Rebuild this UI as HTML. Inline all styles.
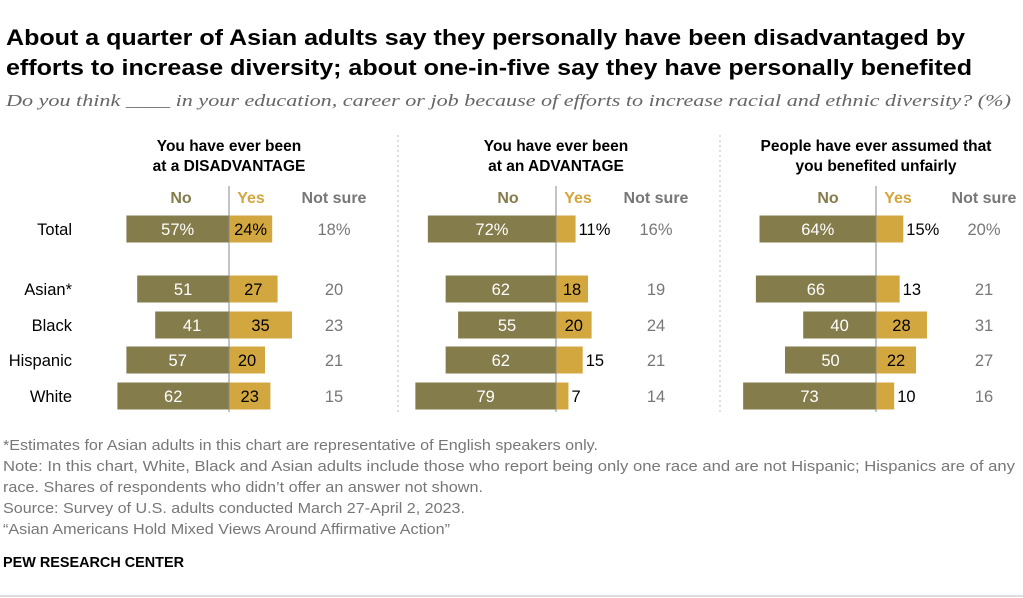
<!DOCTYPE html>
<html><head><meta charset="utf-8"><style>
body{margin:0;background:#fff;width:1023px;height:598px;overflow:hidden;font-family:"Liberation Sans",sans-serif}
svg{display:block}
</style></head><body>
<svg id="c" width="1023" height="598" xmlns="http://www.w3.org/2000/svg">
<text x="6" y="45" font-size="22" font-weight="bold" fill="#000" textLength="959" lengthAdjust="spacingAndGlyphs">About a quarter of Asian adults say they personally have been disadvantaged by</text>
<text x="6" y="75" font-size="22" font-weight="bold" fill="#000" textLength="966" lengthAdjust="spacingAndGlyphs">efforts to increase diversity; about one-in-five say they have personally benefited</text>
<text x="6" y="106" font-size="17" font-style="italic" font-family="Liberation Serif,serif" fill="#666" textLength="1005" lengthAdjust="spacingAndGlyphs">Do you think ____ in your education, career or job because of efforts to increase racial and ethnic diversity? (%)</text>
<line x1="398" y1="135" x2="398" y2="412" stroke="#bbb" stroke-dasharray="2,3"/>
<line x1="720" y1="135" x2="720" y2="412" stroke="#bbb" stroke-dasharray="2,3"/>
<g id="footer" font-size="15" fill="#777" lengthAdjust="spacingAndGlyphs">
<text x="3" y="450" textLength="595" lengthAdjust="spacingAndGlyphs">*Estimates for Asian adults in this chart are representative of English speakers only.</text>
<text x="3" y="471" textLength="1012" lengthAdjust="spacingAndGlyphs">Note: In this chart, White, Black and Asian adults include those who report being only one race and are not Hispanic; Hispanics are of any</text>
<text x="3" y="492" textLength="480" lengthAdjust="spacingAndGlyphs">race. Shares of respondents who didn’t offer an answer not shown.</text>
<text x="3" y="513" textLength="462" lengthAdjust="spacingAndGlyphs">Source: Survey of U.S. adults conducted March 27-April 2, 2023.</text>
<text x="3" y="534" textLength="447" lengthAdjust="spacingAndGlyphs">“Asian Americans Hold Mixed Views Around Affirmative Action”</text>
</g>
<text x="3" y="567" font-size="15" font-weight="bold" fill="#000" textLength="181" lengthAdjust="spacingAndGlyphs">PEW RESEARCH CENTER</text>
<line x1="0" y1="596" x2="1023" y2="596" stroke="#bbb"/>
</svg>
<script>
const categories=["Total","Asian*","Black","Hispanic","White"];
const panelTitles=[["You have ever been","at a DISADVANTAGE"],["You have ever been","at an ADVANTAGE"],["People have ever assumed that","you benefited unfairly"]];
const noValues=[[57,51,41,57,62],[72,62,55,62,79],[64,66,40,50,73]];
const yesValues=[[24,27,35,20,23],[11,18,20,15,7],[15,13,28,22,10]];
const notSureValues=[[18,20,23,21,15],[16,19,24,21,14],[20,21,31,27,16]];
const svg=document.getElementById('c');
const NS="http://www.w3.org/2000/svg";
const bases=[229,556,876], nsX=[334,656,984], rowY=[229,289,325,360,396];
const scales=[1.8,1.78,1.82], barH=27;
const xs=(p,v)=>v*scales[p];
function mk(tag,attrs,txt){const e=document.createElementNS(NS,tag);for(const k in attrs)e.setAttribute(k,attrs[k]);if(txt!=null)e.textContent=txt;svg.appendChild(e);return e;}
categories.forEach((c,i)=>{
 const t=mk('text',{x:72,y:rowY[i]+6,'font-size':16.5,'text-anchor':'end',fill:'#000'},c);
 
 
});
for(let p=0;p<3;p++){
 const b=bases[p];
 panelTitles[p].forEach((l,j)=>{
  const t=mk('text',{x:b,y:151+j*20,'font-size':15.5,'font-weight':'bold','text-anchor':'middle',fill:'#000'},l);
  
  
 });
 let h=mk('text',{x:b-48,y:203,'font-size':16,'font-weight':'bold','text-anchor':'middle',fill:'#857c4b'},'No');
 
 
 h=mk('text',{x:b+22,y:203,'font-size':16,'font-weight':'bold','text-anchor':'middle',fill:'#d3a73f'},'Yes');
 
 
 h=mk('text',{x:nsX[p],y:203,'font-size':16,'font-weight':'bold','text-anchor':'middle',fill:'#777'},'Not sure');
 
 
 categories.forEach((c,i)=>{
  const y=rowY[i], pct=i==0?'%':'';
  const nw=xs(p,noValues[p][i]), yw=xs(p,yesValues[p][i]);
  let r=mk('rect',{x:b-nw,y:y-barH/2,width:nw,height:barH,fill:'#857c4b'});
  
  
  r=mk('rect',{x:b,y:y-barH/2,width:yw,height:barH,fill:'#d3a73f'});
  
  
  let t=mk('text',{x:b-nw/2,y:y+6,'font-size':16.5,'text-anchor':'middle',fill:'#fff'},noValues[p][i]+pct);
  
  
  const inside=yesValues[p][i]>=17;
  t=mk('text',{x:inside?b+yw/2:b+yw+3,y:y+6,'font-size':16.5,'text-anchor':inside?'middle':'start',fill:'#000'},yesValues[p][i]+pct);
  
  
  t=mk('text',{x:nsX[p],y:y+6,'font-size':16.5,'text-anchor':'middle',fill:'#777'},notSureValues[p][i]+pct);
  
  
 });
 const ln=mk('line',{x1:b,y1:186,x2:b,y2:412,stroke:'#888','stroke-width':1});
 
 
}
</script>
</body></html>
